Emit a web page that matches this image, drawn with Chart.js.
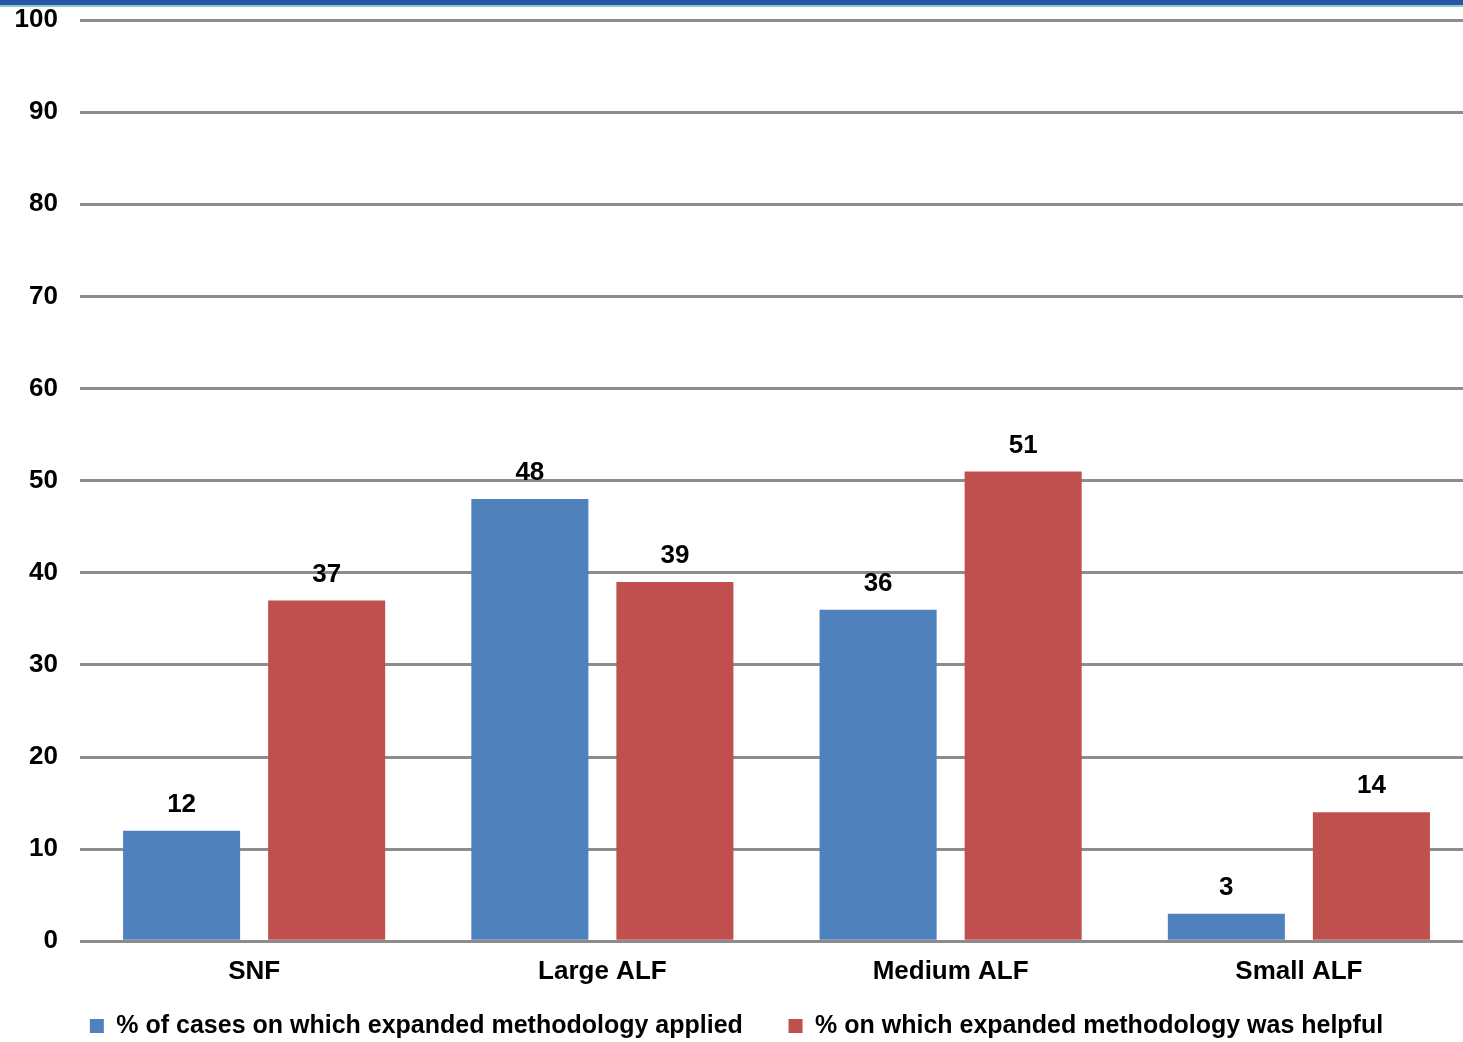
<!DOCTYPE html>
<html>
<head>
<meta charset="utf-8">
<script src="https://cdn.jsdelivr.net/npm/chart.js@4.4.1/dist/chart.umd.min.js"></script>
<style>
  html, body { margin: 0; padding: 0; background: #fff; overflow: hidden; }
  #wrap { position: relative; width: 1463px; height: 1042px; overflow: hidden; }
  #topBar { position: absolute; left: 0; top: 0; width: 1463px; height: 5px; background: #2457a6; border-bottom: 2px solid #8fc9c0; }
</style>
</head>
<body>
<div id="wrap">
  <!-- plot runs a little past the right edge, as in the source -->
  <canvas id="chart" width="1473" height="1042"></canvas>
  <div id="topBar"></div>
</div>
<script>
const categories = ["SNF", "Large ALF", "Medium ALF", "Small ALF"];
const appliedValues = [12, 48, 36, 3];
const helpfulValues = [37, 39, 51, 14];
const yTicks = [0, 10, 20, 30, 40, 50, 60, 70, 80, 90, 100];

const FONT = "'Liberation Sans', Arial, sans-serif";

// value labels above each bar
const barLabels = {
  id: "barLabels",
  afterDatasetsDraw(chart) {
    const { ctx } = chart;
    ctx.save();
    ctx.font = `bold 26px ${FONT}`;
    ctx.fillStyle = "#000";
    ctx.textAlign = "center";
    ctx.textBaseline = "middle";
    chart.data.datasets.forEach((ds, i) => {
      chart.getDatasetMeta(i).data.forEach((bar, j) => {
        ctx.fillText(String(ds.data[j]), bar.x, bar.y - 26);
      });
    });
    ctx.restore();
  }
};

new Chart(document.getElementById("chart"), {
  type: "bar",
  data: {
    labels: categories,
    datasets: [
      {
        label: "% of cases on which expanded methodology applied",
        data: appliedValues,
        backgroundColor: "#4f81bd",
        categoryPercentage: 0.833,
        barPercentage: 0.807
      },
      {
        label: "% on which expanded methodology was helpful",
        data: helpfulValues,
        backgroundColor: "#c0504d",
        categoryPercentage: 0.833,
        barPercentage: 0.807
      }
    ]
  },
  options: {
    responsive: false,
    animation: false,
    layout: { padding: { top: 0, right: 0, bottom: -6.5, left: 0 } },
    plugins: {
      legend: {
        position: "bottom",
        labels: {
          color: "#000",
          boxWidth: 14,
          boxHeight: 14,
          padding: 11,
          font: { family: FONT, size: 25, weight: "bold" },
          // wider gap between the two legend entries
          generateLabels(chart) {
            const items = Chart.defaults.plugins.legend.labels.generateLabels(chart);
            items.forEach((it, i) => {
              if (i < items.length - 1) it.text += "\u00a0".repeat(5);
            });
            return items;
          }
        }
      },
      tooltip: { enabled: false }
    },
    scales: {
      x: {
        grid: { display: false, drawTicks: false },
        border: { display: false },
        ticks: { color: "#000", padding: 15, font: { family: FONT, size: 26, weight: "bold" } }
      },
      y: {
        min: 0,
        max: 100,
        afterBuildTicks(axis) { axis.ticks = yTicks.map(v => ({ value: v })); },
        afterFit(axis) {
          axis.width = 80;
          axis.paddingTop = 20;
          axis.paddingBottom = 0;
        },
        grid: { color: "#8c8c8c", lineWidth: 3, drawTicks: false },
        border: { display: false },
        ticks: { color: "#000", padding: 22, font: { family: FONT, size: 26, weight: "bold" } }
      }
    }
  },
  plugins: [barLabels]
});
</script>
</body>
</html>
